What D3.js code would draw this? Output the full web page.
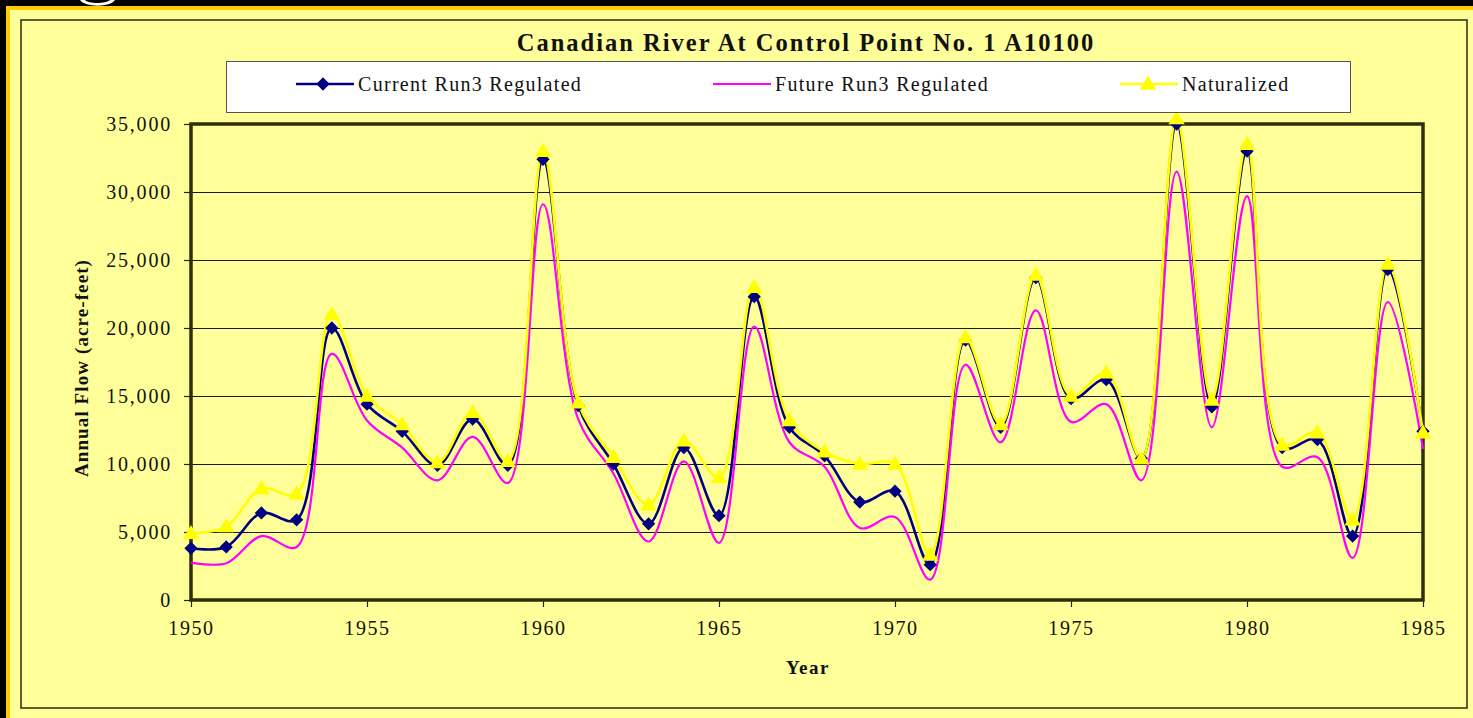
<!DOCTYPE html>
<html>
<head>
<meta charset="utf-8">
<script src="https://cdn.jsdelivr.net/npm/d3@7"></script>
<style>
html,body{margin:0;padding:0;background:#000;overflow:hidden;}
svg{display:block;}
</style>
</head>
<body>
<script>
// ---- data ----
const years = [1950,1951,1952,1953,1954,1955,1956,1957,1958,1959,
               1960,1961,1962,1963,1964,1965,1966,1967,1968,1969,
               1970,1971,1972,1973,1974,1975,1976,1977,1978,1979,
               1980,1981,1982,1983,1984,1985];
const currentRegulated = [3800,3900,6400,5900,20000,14400,12400,9900,13300,9900,
                          32400,14300,10000,5600,11200,6200,22300,12700,10600,7200,
                          8000,2600,19100,12700,23700,14800,16200,10400,35000,14200,
                          33000,11200,11800,4700,24300,12400];
const futureRegulated = [2750,2700,4700,3900,18100,13200,11200,8800,12000,8600,
                         29100,13300,9300,4300,10200,4200,20100,11600,9800,5300,
                         6100,1500,17300,11600,21300,13100,14400,8800,31500,12700,
                         29700,9800,10500,3100,21900,11100];
const naturalized = [4900,5400,8200,7800,21000,15000,12900,10100,13800,10200,
                     33000,14500,10500,7000,11700,9000,23000,13200,10900,10000,
                     10000,3300,19300,12900,23900,15000,16700,10400,35400,14700,
                     33500,11400,12300,5900,24700,12300];
const seriesNames = ["Current Run3 Regulated","Future Run3 Regulated","Naturalized"];
const xTicks = [1950,1955,1960,1965,1970,1975,1980,1985];
const yTicks = [0,5000,10000,15000,20000,25000,30000,35000];
const title = "Canadian River At Control Point No. 1 A10100";
const xTitle = "Year";
const yTitle = "Annual Flow (acre-feet)";

// ---- layout ----
const W = 1473, H = 718;
const bg = "#FFFF99";
const svg = d3.select("body").append("svg").attr("width", W).attr("height", H);

svg.append("rect").attr("x",0).attr("y",0).attr("width",W).attr("height",H).attr("fill","#000");
// fragment of a white glyph peeking in at the top edge (decoration of the slide)
svg.append("path").attr("d","M80,0 C84,7 110,8 115,0 L110,0 C106,4 88,4 85,0 Z").attr("fill","#fff");
svg.append("rect").attr("x",6).attr("y",6).attr("width",W-6).attr("height",H-6).attr("fill","#FFCC00");
svg.append("rect").attr("x",10).attr("y",10).attr("width",W-10).attr("height",H-10).attr("fill",bg);
svg.append("rect").attr("x",21).attr("y",20).attr("width",1446).attr("height",688)
   .attr("fill",bg).attr("stroke","#2a2a10").attr("stroke-width",1.5);

const x = d3.scaleLinear().domain([1950,1985]).range([191,1423]);
const y = d3.scaleLinear().domain([0,35000]).range([600,124]);

const serif = "Liberation Serif, Times New Roman, serif";

// gridlines
svg.append("g").selectAll("line").data(yTicks.filter(d=>d>0)).join("line")
  .attr("x1",x(1950)).attr("x2",x(1985))
  .attr("y1",d=>Math.round(y(d))+0.5).attr("y2",d=>Math.round(y(d))+0.5)
  .attr("stroke","#1a1a1a").attr("stroke-width",1);

// plot frame
svg.append("rect").attr("x",x(1950)).attr("y",y(35000)).attr("width",x(1985)-x(1950)).attr("height",y(0)-y(35000))
  .attr("fill","none").attr("stroke","#2e2e0a").attr("stroke-width",3.5);

// axes
const yAxis = d3.axisLeft(y).tickValues(yTicks).tickSize(6).tickPadding(12).tickFormat(d3.format(","));
const gy = svg.append("g").attr("transform",`translate(${x(1950)-1},0)`).call(yAxis);
gy.select(".domain").remove();
gy.selectAll(".tick line").attr("stroke","#222").attr("stroke-width",1.2);
gy.selectAll(".tick text").attr("font-family",serif).attr("font-size",20).attr("fill","#111")
  .attr("letter-spacing","1.8px");

const xAxis = d3.axisBottom(x).tickValues(xTicks).tickSize(6).tickPadding(14).tickFormat(d3.format("d"));
const gx = svg.append("g").attr("transform",`translate(0,${y(0)+1})`).call(xAxis);
gx.select(".domain").remove();
gx.selectAll(".tick line").attr("stroke","#222").attr("stroke-width",1.2);
gx.selectAll(".tick text").attr("font-family",serif).attr("font-size",20).attr("fill","#111")
  .attr("letter-spacing","1.6px");

// titles
svg.append("text").attr("x",806).attr("y",51).attr("text-anchor","middle")
  .attr("font-family",serif).attr("font-weight","bold").attr("font-size",24.5).attr("fill","#111")
  .attr("letter-spacing","2px").text(title);
svg.append("text").attr("x",808).attr("y",674).attr("text-anchor","middle")
  .attr("font-family",serif).attr("font-weight","bold").attr("font-size",19).attr("fill","#111")
  .attr("letter-spacing","1.5px").text(xTitle);
svg.append("text").attr("transform","translate(88,368) rotate(-90)").attr("text-anchor","middle")
  .attr("font-family",serif).attr("font-weight","bold").attr("font-size",19).attr("fill","#111")
  .attr("letter-spacing","1.1px").text(yTitle);

// lines
const line = d3.line().x((d,i)=>x(years[i])).y(d=>y(d)).curve(d3.curveCatmullRom.alpha(0.5));
const colors = ["#000080","#FF00FF","#FFFF00"];
const widths = [2.6,2.2,2.6];
const data = [currentRegulated, futureRegulated, naturalized];
[0,1,2].forEach(k=>{
  svg.append("path").attr("d",line(data[k])).attr("fill","none")
    .attr("stroke",colors[k]).attr("stroke-width",widths[k]).attr("stroke-linejoin","round");
});

const tri = d3.symbol().type(d3.symbolTriangle).size(115);
const sq = d3.symbol().type(d3.symbolSquare).size(88);
svg.append("g").selectAll("path").data(currentRegulated).join("path")
  .attr("d",sq).attr("transform",(d,i)=>`translate(${x(years[i])},${y(d)}) rotate(45)`)
  .attr("fill","#000080");
svg.append("g").selectAll("path").data(naturalized).join("path")
  .attr("transform",(d,i)=>`translate(${x(years[i])},${y(d)+1})`)
  .attr("d",tri).attr("fill","#FFFF00");

// legend
svg.append("rect").attr("x",226.5).attr("y",61.5).attr("width",1124).attr("height",51)
  .attr("fill","#fff").attr("stroke","#555").attr("stroke-width",1);
const legX = [296,713,1120];
[0,1,2].forEach(k=>{
  const g = svg.append("g").attr("transform",`translate(${legX[k]},84)`);
  g.append("line").attr("x1",0).attr("x2",58).attr("y1",0).attr("y2",0)
    .attr("stroke",colors[k]).attr("stroke-width",widths[k]);
  if(k===0) g.append("path").attr("d",sq())
    .attr("transform","translate(27,0) rotate(45)").attr("fill","#000080");
  if(k===2) g.append("path").attr("d",tri()).attr("transform","translate(28,1)").attr("fill","#FFFF00");
  g.append("text").attr("x",62).attr("y",7).attr("font-family",serif).attr("font-size",20)
    .attr("fill","#111").attr("letter-spacing","1.3px").text(seriesNames[k]);
});
</script>
</body>
</html>
